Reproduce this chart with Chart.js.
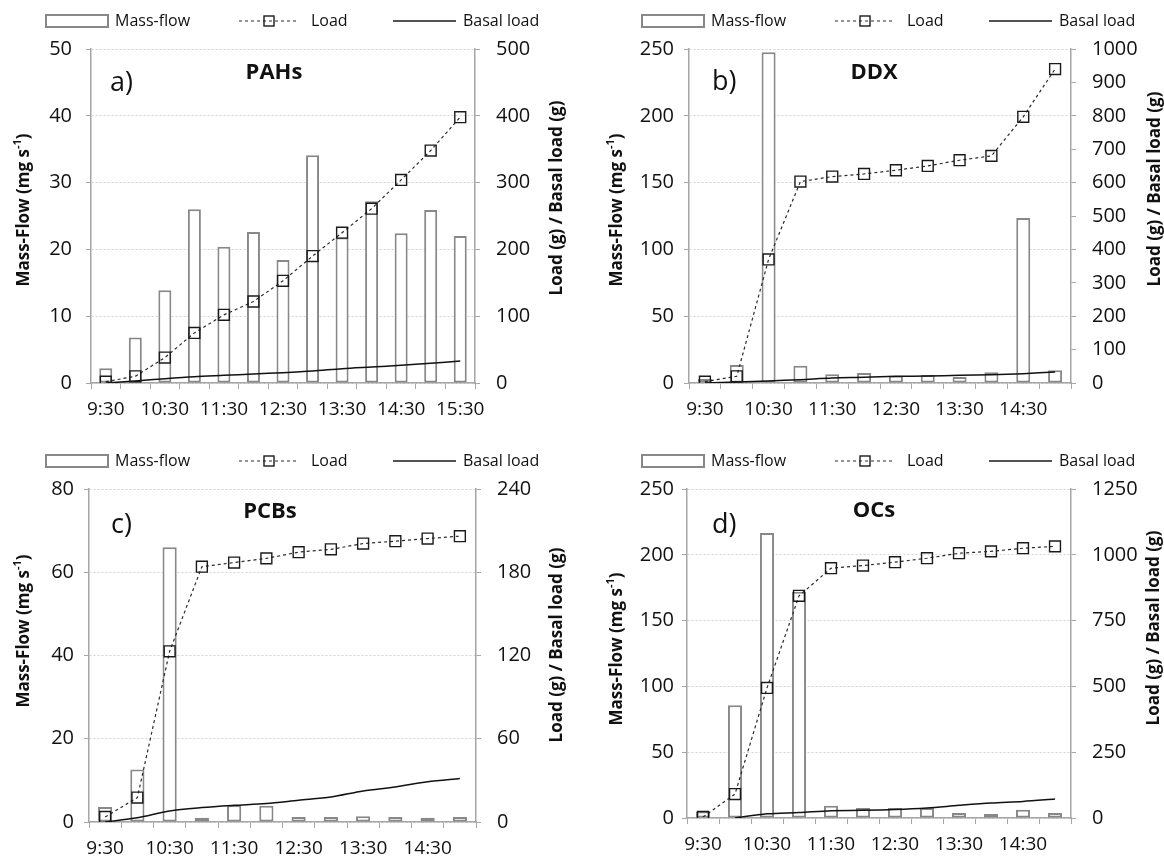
<!DOCTYPE html>
<html>
<head>
<meta charset="utf-8">
<title>Mass-flow and load</title>
<script src="https://cdn.jsdelivr.net/npm/chart.js@4.4.1/dist/chart.umd.min.js"></script>
<style>
  html, body { margin: 0; padding: 0; background: #fff; }
  body { width: 1164px; height: 858px; position: relative; overflow: hidden; }
  .panel { position: absolute; }
  .panel canvas { display: block; }
</style>
</head>
<body>
<div class="panel" style="left:0;top:0"><canvas id="chartA" width="580" height="440"></canvas></div>
<div class="panel" style="left:580px;top:0"><canvas id="chartB" width="584" height="440"></canvas></div>
<div class="panel" style="left:0;top:440px"><canvas id="chartC" width="580" height="418"></canvas></div>
<div class="panel" style="left:580px;top:440px"><canvas id="chartD" width="584" height="418"></canvas></div>
<script>
// sampling times (30 min steps)
const timesPAH = ['9:30', '10:00', '10:30', '11:00', '11:30', '12:00', '12:30', '13:00', '13:30', '14:00', '14:30', '15:00', '15:30'];
const times = ['9:30', '10:00', '10:30', '11:00', '11:30', '12:00', '12:30', '13:00', '13:30', '14:00', '14:30', '15:00'];

// a) PAHs
const pahFlow = [2.2, 6.8, 13.9, 26.0, 20.4, 22.6, 18.4, 34.1, 21.8, 27.2, 22.4, 25.9, 22.0];
const pahLoad = [2, 10, 38, 75, 102, 122, 153, 190, 225, 261, 304, 348, 398];
const pahBasal = [0, 3, 6.5, 9.5, 11.5, 13.5, 15.5, 18, 21.5, 24, 26.5, 29.5, 33];

// b) DDX
const ddxFlow = [3, 13.5, 247.5, 13, 6.5, 7.5, 5.5, 6, 4.5, 8, 123.5, 9.5];
const ddxLoad = [4, 20, 370, 603, 618, 626, 637, 650, 667, 680, 797, 940];
const ddxBasal = [0, 3, 6, 10, 15, 17, 20, 21, 23, 25, 28, 33];

// c) PCBs
const pcbFlow = [3.6, 12.6, 66, 1, 4, 3.9, 1.2, 1.2, 1.4, 1.2, 1, 1.2];
const pcbLoad = [3.6, 17.6, 123, 184, 187, 190, 194.5, 196.5, 200.7, 202.4, 204.3, 206];
const pcbBasal = [0, 3, 8, 10.4, 12, 13.3, 15.7, 18, 22.4, 25.3, 29, 31.3];

// d) OCs
const ocFlow = [5, 85.6, 216.6, 172, 9.4, 7.6, 7.6, 7.6, 3.8, 3, 6.3, 3.8];
const ocLoad = [4, 91, 494, 844, 949, 959, 972, 987, 1006, 1013, 1025, 1032];
const ocBasal = [null, 0, 16, 21, 28, 29, 32, 38, 48, 57, 63, 72];

// axis ranges: [max, step] for mass-flow (left) and load (right)
const flowAxis = [[50, 10], [250, 50], [80, 20], [250, 50]];
const loadAxis = [[500, 100], [1000, 100], [240, 60], [1250, 250]];

const FONT = '"Open Sans", "DejaVu Sans", sans-serif';
Chart.defaults.font.family = FONT;
Chart.defaults.color = '#111';

const axisGrey = '#a6a6a6';
const textColor = '#111';

const panels = [
    { id: 'chartA', tag: 'a)', name: 'PAHs', labels: timesPAH, flow: pahFlow, load: pahLoad, basal: pahBasal, axes: 0,
      W: 580, H: 440, L: 91, R: 475, T: 49, B: 383,
      tagX: 110, tagY: 83, nameX: 274, nameY: 73, ltX: 24, ltY: 210, rtX: 557, rtY: 198, legX: 46, legY: 21, leftPad: 14 },
    { id: 'chartB', tag: 'b)', name: 'DDX', labels: times, flow: ddxFlow, load: ddxLoad, basal: ddxBasal, axes: 1,
      W: 584, H: 440, L: 109, R: 491, T: 49, B: 383,
      tagX: 132, tagY: 82, nameX: 294, nameY: 73, ltX: 37, ltY: 210, rtX: 575, rtY: 189, legX: 62, legY: 21, leftPad: 10 },
    { id: 'chartC', tag: 'c)', name: 'PCBs', labels: times, flow: pcbFlow, load: pcbLoad, basal: pcbBasal, axes: 2,
      W: 580, H: 418, L: 89, R: 476, T: 49, B: 382,
      tagX: 111, tagY: 85, nameX: 270, nameY: 72, ltX: 24, ltY: 191, rtX: 557, rtY: 205, legX: 46, legY: 21, leftPad: 10 },
    { id: 'chartD', tag: 'd)', name: 'OCs', labels: times, flow: ocFlow, load: ocLoad, basal: ocBasal, axes: 3,
      W: 584, H: 418, L: 107, R: 491, T: 49, B: 378,
      tagX: 132, tagY: 85, nameX: 294, nameY: 71, ltX: 37, ltY: 209, rtX: 574, rtY: 188, legX: 62, legY: 21, leftPad: 8 }
];

// rotated (bottom-to-top) text made of parts, e.g. for superscripts
function drawVertical(ctx, parts, cx, cy) {
    let total = 0;
    parts.forEach(pt => { ctx.font = pt.f; pt.w = ctx.measureText(pt.t).width; total += pt.w; });
    ctx.save();
    ctx.translate(cx, cy);
    ctx.rotate(-Math.PI / 2);
    ctx.textAlign = 'left';
    ctx.textBaseline = 'middle';
    let x = -total / 2;
    parts.forEach(pt => {
        ctx.font = pt.f;
        ctx.fillText(pt.t, x, pt.dy);
        x += pt.w;
    });
    ctx.restore();
}

function makeTextPlugin(p) {
    return {
        id: 'panelText',
        afterDraw(chart) {
            const ctx = chart.ctx;
            ctx.save();
            ctx.textBaseline = 'middle';
            ctx.textAlign = 'left';

            // legend row
            const lx = p.legX, ly = p.legY;
            ctx.fillStyle = '#fff';
            ctx.strokeStyle = '#888';
            ctx.lineWidth = 2;
            ctx.fillRect(lx, ly - 6, 62, 12);
            ctx.strokeRect(lx, ly - 6, 62, 12);
            ctx.fillStyle = textColor;
            ctx.font = '16px ' + FONT;
            ctx.fillText('Mass-flow', lx + 69, ly);

            const dx = lx + 193;
            ctx.strokeStyle = '#2b2b2b';
            ctx.lineWidth = 1.2;
            ctx.setLineDash([3, 3]);
            ctx.beginPath(); ctx.moveTo(dx, ly); ctx.lineTo(dx + 60, ly); ctx.stroke();
            ctx.setLineDash([]);
            ctx.lineWidth = 1.4;
            ctx.strokeStyle = '#1a1a1a';
            ctx.strokeRect(dx + 25, ly - 5, 10, 10);
            ctx.fillText('Load', dx + 72, ly);

            const bx = lx + 347;
            ctx.lineWidth = 1.5;
            ctx.beginPath(); ctx.moveTo(bx, ly); ctx.lineTo(bx + 63, ly); ctx.stroke();
            ctx.fillText('Basal load', bx + 70, ly);

            // panel tag and compound group
            ctx.font = '27px ' + FONT;
            ctx.fillText(p.tag, p.tagX, p.tagY);
            ctx.font = 'bold 22px ' + FONT;
            ctx.textAlign = 'center';
            ctx.fillText(p.name, p.nameX, p.nameY);

            // axis titles
            const tf = 'bold 17px ' + FONT;
            drawVertical(ctx, [
                { t: 'Mass-Flow (mg s', f: tf, dy: 0 },
                { t: '-1', f: 'bold 11px ' + FONT, dy: -6 },
                { t: ')', f: tf, dy: 0 }
            ], p.ltX, p.ltY);
            drawVertical(ctx, [{ t: 'Load (g) / Basal load (g)', f: tf, dy: 0 }], p.rtX, p.rtY);
            ctx.restore();
        }
    };
}

function makeChart(p) {
    const [yMax, yStep] = flowAxis[p.axes];
    const [y1Max, y1Step] = loadAxis[p.axes];
    return new Chart(document.getElementById(p.id), {
        type: 'bar',
        data: {
            labels: p.labels,
            datasets: [
                {
                    type: 'line', label: 'Load', data: p.load, yAxisID: 'y1', order: 0,
                    borderColor: '#2b2b2b', borderWidth: 1.2, borderDash: [3, 3],
                    pointStyle: 'rect', pointRadius: 7.7, pointBorderColor: '#1a1a1a',
                    pointBorderWidth: 1.4, pointBackgroundColor: 'rgba(255,255,255,0)', tension: 0
                },
                {
                    type: 'line', label: 'Basal load', data: p.basal, yAxisID: 'y1', order: 1,
                    borderColor: '#111', borderWidth: 1.5, pointRadius: 0, tension: 0.3
                },
                {
                    type: 'bar', label: 'Mass-flow', data: p.flow, yAxisID: 'y', order: 2,
                    backgroundColor: '#fff', borderColor: '#888', borderWidth: 2,
                    borderSkipped: false, barPercentage: 0.44, categoryPercentage: 1
                }
            ]
        },
        options: {
            responsive: false,
            animation: false,
            layout: { padding: { top: p.T, left: 0, right: 0, bottom: 0 } },
            plugins: { legend: { display: false }, tooltip: { enabled: false } },
            scales: {
                x: {
                    offset: true,
                    grid: { offset: true, drawOnChartArea: false, color: axisGrey, tickLength: 6 },
                    border: { color: axisGrey, width: 1.5 },
                    ticks: {
                        autoSkip: false, maxRotation: 0, minRotation: 0, padding: 9,
                        font: { size: 19 }, color: textColor,
                        callback: function (value, index) {
                            return index % 2 === 0 ? this.getLabelForValue(value) : '';
                        }
                    },
                    afterFit(s) { s.height = p.H - p.B; }
                },
                y: {
                    position: 'left', min: 0, max: yMax,
                    ticks: { stepSize: yStep, font: { size: 20 }, color: textColor, padding: p.leftPad,
                             callback: v => String(v) },
                    grid: { color: '#d2d2d2', tickColor: axisGrey, tickLength: 5 },
                    border: { color: axisGrey, width: 1.5, dash: [2, 2] },
                    afterFit(s) { s.width = p.L; }
                },
                y1: {
                    position: 'right', min: 0, max: y1Max,
                    ticks: { stepSize: y1Step, font: { size: 20 }, color: textColor, padding: 16,
                             callback: v => String(v) },
                    grid: { drawOnChartArea: false, color: axisGrey, tickLength: 5 },
                    border: { color: axisGrey, width: 1.5 },
                    afterFit(s) { s.width = p.W - p.R; }
                }
            }
        },
        plugins: [makeTextPlugin(p)]
    });
}

panels.forEach(makeChart);
</script>
</body>
</html>
